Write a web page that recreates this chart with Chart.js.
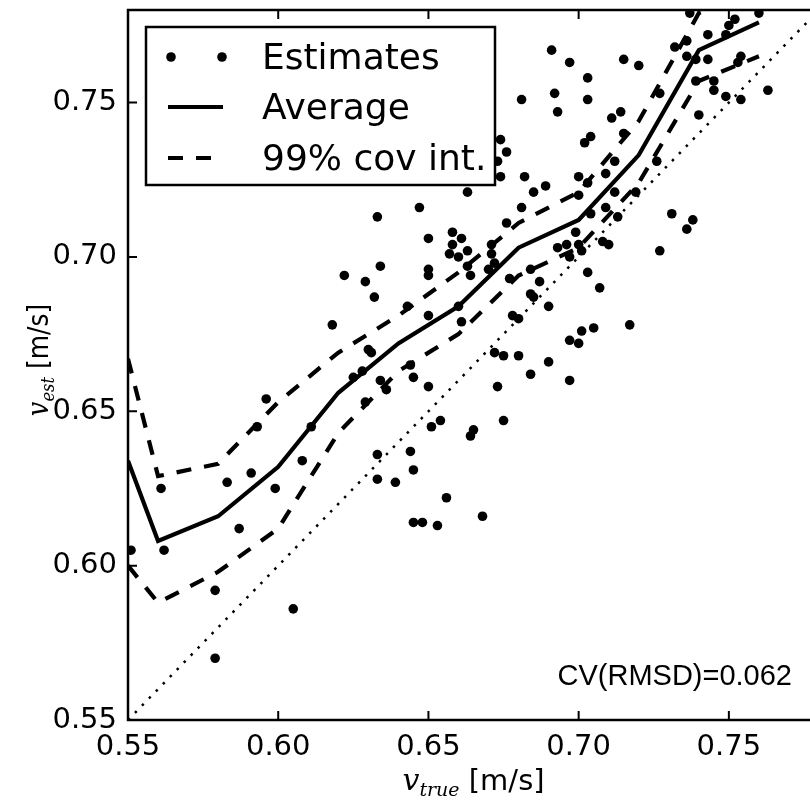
<!DOCTYPE html>
<html>
<head>
<meta charset="utf-8">
<script src="https://cdn.jsdelivr.net/npm/chart.js@4.4.1/dist/chart.umd.min.js"></script>
<style>
    html, body { margin: 0; padding: 0; background: #fff; overflow: hidden; }
    #wrap { width: 830px; height: 802px; }
</style>
</head>
<body>
<div id="wrap"><canvas id="chart" width="830" height="802"></canvas></div>
<script>
// 估计值 (散点)
const estX = [0.551, 0.561, 0.562, 0.579, 0.579, 0.583, 0.587, 0.591, 0.593, 0.596, 0.599, 0.605, 0.608, 0.611,
    0.618, 0.622, 0.625, 0.628, 0.629, 0.629, 0.630, 0.631, 0.632, 0.633, 0.633, 0.634, 0.634, 0.636, 0.639,
    0.643, 0.644, 0.644, 0.645, 0.645, 0.645, 0.648, 0.650, 0.650, 0.650, 0.650, 0.651, 0.653, 0.654, 0.656,
    0.657, 0.658, 0.660, 0.660, 0.661, 0.663, 0.663, 0.664, 0.664, 0.665, 0.668, 0.633, 0.647, 0.650, 0.658,
    0.661, 0.663, 0.671, 0.671, 0.672, 0.670, 0.693, 0.696, 0.700, 0.701, 0.708, 0.710, 0.727, 0.697, 0.684,
    0.677, 0.687, 0.703, 0.707, 0.684, 0.685, 0.690, 0.678, 0.680, 0.701, 0.705, 0.717, 0.697, 0.700, 0.672,
    0.675, 0.680, 0.690, 0.684, 0.697, 0.673, 0.675, 0.737, 0.760, 0.750, 0.752, 0.743, 0.749, 0.732, 0.736,
    0.736, 0.739, 0.743, 0.754, 0.753, 0.739, 0.745, 0.745, 0.749, 0.754, 0.763, 0.727, 0.740, 0.691, 0.697,
    0.715, 0.720, 0.703, 0.681, 0.692, 0.703, 0.693, 0.714, 0.711, 0.704, 0.702, 0.715, 0.674, 0.676, 0.673,
    0.712, 0.709, 0.726, 0.674, 0.682, 0.689, 0.685, 0.700, 0.703, 0.700, 0.712, 0.681, 0.676, 0.709, 0.713,
    0.704, 0.719, 0.731, 0.738, 0.736, 0.699];
const estY = [0.605, 0.625, 0.605, 0.592, 0.570, 0.627, 0.612, 0.630, 0.645, 0.654, 0.625, 0.586, 0.634, 0.645,
    0.678, 0.694, 0.661, 0.663, 0.692, 0.653, 0.670, 0.669, 0.687, 0.636, 0.628, 0.697, 0.660, 0.657, 0.627,
    0.684, 0.665, 0.637, 0.631, 0.661, 0.614, 0.614, 0.696, 0.694, 0.681, 0.658, 0.645, 0.613, 0.647, 0.622,
    0.701, 0.704, 0.700, 0.684, 0.679, 0.702, 0.697, 0.694, 0.642, 0.644, 0.616, 0.713, 0.716, 0.706, 0.708,
    0.706, 0.721, 0.704, 0.701, 0.698, 0.696, 0.703, 0.704, 0.704, 0.702, 0.705, 0.704, 0.702, 0.700, 0.696,
    0.693, 0.692, 0.695, 0.690, 0.688, 0.687, 0.684, 0.681, 0.680, 0.676, 0.677, 0.678, 0.673, 0.672, 0.669,
    0.668, 0.668, 0.666, 0.662, 0.660, 0.658, 0.647, 0.779, 0.779, 0.775, 0.777, 0.772, 0.772, 0.768, 0.770,
    0.765, 0.764, 0.764, 0.765, 0.763, 0.757, 0.757, 0.754, 0.752, 0.751, 0.754, 0.753, 0.746, 0.767, 0.763,
    0.764, 0.762, 0.758, 0.751, 0.753, 0.751, 0.747, 0.747, 0.745, 0.739, 0.737, 0.740, 0.738, 0.734, 0.731,
    0.731, 0.727, 0.731, 0.726, 0.726, 0.723, 0.721, 0.726, 0.724, 0.720, 0.721, 0.716, 0.711, 0.716, 0.713,
    0.714, 0.721, 0.714, 0.712, 0.709, 0.708];

// 平均值与 99% 区间
const gridX = [0.55, 0.56, 0.58, 0.60, 0.62, 0.64, 0.66, 0.68, 0.70, 0.72, 0.74, 0.76];
const avgY = [0.634, 0.608, 0.616, 0.632, 0.656, 0.672, 0.684, 0.703, 0.712, 0.733, 0.767, 0.776];
const upperY = [0.667, 0.629, 0.633, 0.653, 0.669, 0.681, 0.695, 0.711, 0.721, 0.744, 0.779, 0.785];
const lowerY = [0.600, 0.588, 0.598, 0.612, 0.643, 0.663, 0.675, 0.694, 0.703, 0.724, 0.757, 0.765];

// 对角线 y = x
const diagX = [0.55, 0.78];
const diagY = [0.55, 0.78];

const xTicks = [0.55, 0.60, 0.65, 0.70, 0.75];
const yTicks = [0.55, 0.60, 0.65, 0.70, 0.75];

const cvText = 'CV(RMSD)=0.062';

const toPoints = (xs, ys) => xs.map((x, i) => ({ x: x, y: ys[i] }));

const DASH = [15, 13];

// 坐标框与向内的刻度
const framePlugin = {
    id: 'frame',
    afterDatasetsDraw(chart) {
        const { ctx, chartArea: a, scales } = chart;
        ctx.save();
        ctx.strokeStyle = '#000';
        ctx.lineWidth = 2;
        ctx.beginPath();
        xTicks.forEach(v => {
            const px = scales.x.getPixelForValue(v);
            ctx.moveTo(px, a.bottom); ctx.lineTo(px, a.bottom - 9);
            ctx.moveTo(px, a.top); ctx.lineTo(px, a.top + 9);
        });
        yTicks.forEach(v => {
            const py = scales.y.getPixelForValue(v);
            ctx.moveTo(a.left, py); ctx.lineTo(a.left + 9, py);
            ctx.moveTo(a.right, py); ctx.lineTo(a.right - 9, py);
        });
        ctx.stroke();
        ctx.lineWidth = 2.5;
        ctx.strokeRect(a.left, a.top, a.right - a.left, a.bottom - a.top);
        ctx.restore();
    }
};

function partsWidth(ctx, parts) {
    let w = 0;
    parts.forEach(p => { ctx.font = p.font; w += ctx.measureText(p.text).width; });
    return w;
}

function drawParts(ctx, parts, x, y) {
    let cx = x;
    parts.forEach(p => {
        ctx.font = p.font;
        ctx.fillText(p.text, cx, y + (p.dy || 0));
        cx += ctx.measureText(p.text).width;
    });
}

// 轴标题、注释与图例
const textPlugin = {
    id: 'texts',
    afterDraw(chart) {
        const { ctx, chartArea: a } = chart;
        ctx.save();
        ctx.fillStyle = '#000';
        ctx.textBaseline = 'alphabetic';
        ctx.textAlign = 'left';

        const xParts = [
            { text: 'v', font: 'italic 30px "DejaVu Serif"' },
            { text: 'true', font: 'italic 19px "DejaVu Serif"', dy: 6 },
            { text: ' [m/s]', font: '29px "DejaVu Sans"' }
        ];
        const cx = (a.left + a.right) / 2;
        drawParts(ctx, xParts, cx - partsWidth(ctx, xParts) / 2, 790);

        const yParts = [
            { text: 'v', font: 'italic 30px "DejaVu Serif"' },
            { text: 'est', font: 'italic 19px "DejaVu Serif"', dy: 6 },
            { text: ' [m/s]', font: '29px "DejaVu Sans"' }
        ];
        ctx.save();
        ctx.translate(48, 360);
        ctx.rotate(-Math.PI / 2);
        ctx.scale(0.86, 1);
        drawParts(ctx, yParts, -partsWidth(ctx, yParts) / 2, 0);
        ctx.restore();

        ctx.font = '29px "Liberation Sans"';
        ctx.textAlign = 'right';
        ctx.fillText(cvText, 792, 685);

        // 图例
        const box = { x: 146, y: 27, w: 349, h: 158 };
        ctx.fillStyle = '#fff';
        ctx.fillRect(box.x, box.y, box.w, box.h);
        ctx.strokeStyle = '#000';
        ctx.lineWidth = 2.5;
        ctx.strokeRect(box.x, box.y, box.w, box.h);

        ctx.fillStyle = '#000';
        const ds = chart.data.datasets;
        const rows = [57, 107, 158];
        [0, 1, 2].forEach((di, i) => {
            const d = ds[di];
            const ry = rows[i];
            if (di === 0) {
                [171, 222].forEach(px => {
                    ctx.beginPath();
                    ctx.arc(px, ry, d.pointRadius, 0, Math.PI * 2);
                    ctx.fill();
                });
            } else {
                ctx.save();
                ctx.lineWidth = d.borderWidth;
                ctx.setLineDash(d.borderDash || []);
                ctx.beginPath();
                ctx.moveTo(168, ry);
                ctx.lineTo(223, ry);
                ctx.stroke();
                ctx.restore();
            }
            ctx.font = '36px "DejaVu Sans"';
            ctx.textAlign = 'left';
            ctx.fillText(d.label, 262, ry + 12);
        });
        ctx.restore();
    }
};

new Chart(document.getElementById('chart'), {
    type: 'scatter',
    data: {
        datasets: [{
            label: 'Estimates',
            data: toPoints(estX, estY),
            backgroundColor: '#000',
            borderWidth: 0,
            pointRadius: 4.8,
            showLine: false,
            clip: 0,
            order: 1
        }, {
            label: 'Average',
            data: toPoints(gridX, avgY),
            borderColor: '#000',
            borderWidth: 4.2,
            pointRadius: 0,
            showLine: true,
            tension: 0,
            clip: 0,
            order: 2
        }, {
            label: '99% cov int.',
            data: toPoints(gridX, upperY),
            borderColor: '#000',
            borderWidth: 4.2,
            borderDash: DASH,
            pointRadius: 0,
            showLine: true,
            clip: 0,
            order: 3
        }, {
            label: 'lower',
            data: toPoints(gridX, lowerY),
            borderColor: '#000',
            borderWidth: 4.2,
            borderDash: DASH,
            pointRadius: 0,
            showLine: true,
            clip: 0,
            order: 4
        }, {
            label: 'y=x',
            data: toPoints(diagX, diagY),
            borderColor: '#000',
            borderWidth: 2.5,
            borderDash: [2.5, 7.5],
            pointRadius: 0,
            showLine: true,
            clip: 0,
            order: 5
        }]
    },
    options: {
        responsive: false,
        animation: false,
        devicePixelRatio: 1,
        layout: { padding: { top: 10, right: 11, left: 0, bottom: 0 } },
        plugins: {
            legend: { display: false },
            tooltip: { enabled: false },
            title: { display: false }
        },
        scales: {
            x: {
                type: 'linear',
                min: 0.55,
                max: 0.78,
                afterFit: scale => {
                    scale.height = 82;
                    scale.paddingLeft = 0;
                    scale.paddingRight = 0;
                },
                afterBuildTicks: scale => { scale.ticks = xTicks.map(v => ({ value: v })); },
                grid: { display: false, drawTicks: false },
                border: { display: false },
                ticks: {
                    color: '#000',
                    padding: 10,
                    maxRotation: 0,
                    autoSkip: false,
                    font: { family: '"DejaVu Sans"', size: 29 },
                    callback: v => v.toFixed(2)
                }
            },
            y: {
                type: 'linear',
                min: 0.55,
                max: 0.78,
                afterFit: scale => {
                    scale.width = 128;
                    scale.paddingTop = 0;
                    scale.paddingBottom = 0;
                },
                afterBuildTicks: scale => { scale.ticks = yTicks.map(v => ({ value: v })); },
                grid: { display: false, drawTicks: false },
                border: { display: false },
                ticks: {
                    color: '#000',
                    padding: 11,
                    autoSkip: false,
                    font: { family: '"DejaVu Sans"', size: 29 },
                    callback: v => v.toFixed(2)
                }
            }
        }
    },
    plugins: [framePlugin, textPlugin]
});
</script>
</body>
</html>
